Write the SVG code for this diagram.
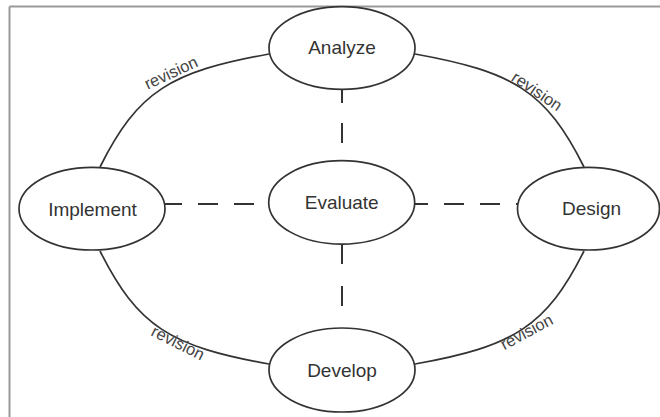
<svg xmlns="http://www.w3.org/2000/svg" width="660" height="417" viewBox="0 0 660 417">
  <style>
    .frame { stroke: #9a9a9a; stroke-width: 2; fill: none; }
    .arc { fill: none; stroke: #333; stroke-width: 1.7; }
    .dash { fill: none; stroke: #333; stroke-width: 2; }
    .node ellipse { fill: #fff; stroke: #333; stroke-width: 1.7; }
    .node text { font-family: "Liberation Sans", Arial, sans-serif; font-size: 19px; fill: #333; text-anchor: middle; }
    .rev { font-family: "Liberation Sans", Arial, sans-serif; font-size: 16.5px; fill: #444; text-anchor: middle; }
  </style>
  <rect width="660" height="417" fill="#fff"/>
  <g id="frame">
    <line class="frame" x1="9.5" y1="6.5" x2="660" y2="6.5"/>
    <line class="frame" x1="9.5" y1="6.5" x2="9.5" y2="417"/>
  </g>
  <g id="connectors">
    <path class="arc" d="M100,167 C138,91 170.6,71.7 269,54"/>
    <path class="arc" d="M415,54 C513.4,71.7 546,91 584,167"/>
    <path class="arc" d="M100,251 C138,327 170.6,346.3 269,364"/>
    <path class="arc" d="M415,364 C513.4,346.3 546,327 584,251"/>
    <line class="dash" x1="162" y1="204" x2="268" y2="204" stroke-dasharray="20 16"/>
    <line class="dash" x1="408" y1="204" x2="518" y2="204" stroke-dasharray="20 16"/>
    <line class="dash" x1="342" y1="83" x2="342" y2="161" stroke-dasharray="20 20"/>
    <line class="dash" x1="342" y1="244" x2="342" y2="328" stroke-dasharray="20 22"/>
    <text class="rev" x="173.4" y="77.8" transform="rotate(-25 173.4 77.8)">revision</text>
    <text class="rev" x="533.9" y="95.8" transform="rotate(34 533.9 95.8)">revision</text>
    <text class="rev" x="175.5" y="347.8" transform="rotate(26.6 175.5 347.8)">revision</text>
    <text class="rev" x="529.2" y="336.8" transform="rotate(-28.3 529.2 336.8)">revision</text>
  </g>
  <g id="analyze" class="node">
    <ellipse cx="342" cy="48" rx="73" ry="41.3"/>
    <text x="342" y="54">Analyze</text>
  </g>
  <g id="evaluate" class="node">
    <ellipse cx="341.7" cy="202.4" rx="73" ry="41.7"/>
    <text x="341.7" y="209.3">Evaluate</text>
  </g>
  <g id="implement" class="node">
    <ellipse cx="92" cy="208.7" rx="73" ry="41.3"/>
    <text x="92.5" y="215.7">Implement</text>
  </g>
  <g id="design" class="node">
    <ellipse cx="588.5" cy="208.7" rx="71" ry="41.3"/>
    <text x="591.5" y="215.3">Design</text>
  </g>
  <g id="develop" class="node">
    <ellipse cx="342" cy="370" rx="73" ry="42"/>
    <text x="342" y="377">Develop</text>
  </g>
</svg>
